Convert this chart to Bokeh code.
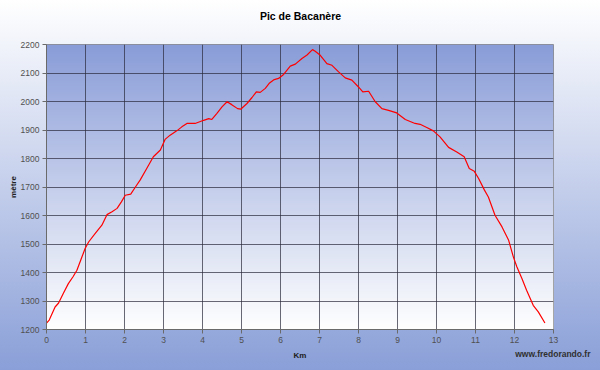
import numpy as np
from bokeh.plotting import figure
from bokeh.models import Range1d, FixedTicker, Label
from bokeh.embed import file_html
from bokeh.resources import INLINE

km = [0, 0.07, 0.22, 0.31, 0.43, 0.56, 0.68, 0.78, 0.91, 0.99, 1.08, 1.25, 1.42, 1.55, 1.68,
      1.81, 1.92, 2.02, 2.16, 2.28, 2.40, 2.57, 2.74, 2.92, 3.04, 3.17, 3.34, 3.47, 3.60, 3.81,
      4.03, 4.16, 4.24, 4.37, 4.50, 4.63, 4.75, 4.90, 4.98, 5.14, 5.27, 5.38, 5.48, 5.61, 5.72,
      5.84, 5.95, 6.08, 6.25, 6.38, 6.55, 6.68, 6.82, 6.89, 7.02, 7.19, 7.32, 7.49, 7.66, 7.83,
      8.00, 8.11, 8.26, 8.43, 8.60, 8.77, 8.98, 9.20, 9.45, 9.58, 9.75, 9.92, 10.09, 10.31, 10.52,
      10.71, 10.84, 10.97, 11.08, 11.23, 11.33, 11.50, 11.68, 11.85, 11.97, 12.06, 12.19, 12.31,
      12.48, 12.61, 12.78]
altitude = [1222, 1233, 1279, 1293, 1326, 1361, 1385, 1408, 1455, 1484, 1507, 1537, 1566, 1603, 1613,
            1625, 1648, 1671, 1675, 1700, 1724, 1765, 1806, 1830, 1867, 1882, 1897, 1911, 1923, 1923,
            1934, 1940, 1937, 1958, 1981, 1999, 1989, 1975, 1973, 1993, 2014, 2034, 2032, 2046, 2065,
            2077, 2081, 2095, 2124, 2131, 2151, 2163, 2182, 2176, 2162, 2133, 2127, 2104, 2083, 2075,
            2051, 2034, 2036, 1999, 1975, 1969, 1960, 1937, 1923, 1920, 1909, 1897, 1876, 1839, 1823,
            1806, 1765, 1755, 1730, 1689, 1665, 1601, 1560, 1513, 1455, 1420, 1379, 1338, 1285, 1262,
            1223]
x_ticks = list(range(0, 14))
y_ticks = list(range(1200, 2201, 100))
title_text = "Pic de Bacanère"
x_label = "Km"
y_label = "mètre"
credit = "www.fredorando.fr"

FONT = "Liberation Sans"

p = figure(width=600, height=370, output_backend="svg", toolbar_location=None,
           x_range=Range1d(0, 13), y_range=Range1d(1200, 2200),
           min_border_left=46, min_border_right=47, min_border_top=44, min_border_bottom=41)
p.title_location = None
p.styles = {"background": "linear-gradient(to bottom, #ffffff 0%, #8a9fd8 100%)"}
p.border_fill_alpha = 0
p.background_fill_alpha = 0
p.outline_line_color = "#8a8a8a"
p.outline_line_width = 1

# plot-area gradient (blue at top to white at bottom)
n = 256
t = np.linspace(0, 1, n)[:, None]  # row 0 = bottom
top = np.array([138, 157, 216])
bot = np.array([255, 255, 255])
rgb = (bot + (top - bot) * t).astype(np.uint32)
img = np.empty((n, 1), dtype=np.uint32)
view = img.view(dtype=np.uint8).reshape((n, 1, 4))
view[:, 0, 0] = rgb[:, 0]
view[:, 0, 1] = rgb[:, 1]
view[:, 0, 2] = rgb[:, 2]
view[:, 0, 3] = 255
p.image_rgba(image=[img], x=0, y=1200, dw=13, dh=1000, level="image")

p.line(km, altitude, line_color="#ff0000", line_width=1.2)

for ax in (p.xaxis[0], p.yaxis[0]):
    ax.axis_line_color = "#6a6a6a"
    ax.major_tick_line_color = "#6a6a6a"
    ax.minor_tick_line_color = None
    ax.major_tick_in = 0
    ax.major_tick_out = 4
    ax.major_label_text_font = FONT
    ax.major_label_text_font_size = "8.5px"
    ax.major_label_text_color = "#505050"
    ax.major_label_standoff = 3
    ax.axis_label_text_font = FONT
    ax.axis_label_text_font_size = "8px"
    ax.axis_label_text_font_style = "bold"
    ax.axis_label_text_color = "#202020"

p.xaxis.ticker = FixedTicker(ticks=x_ticks)
p.yaxis.ticker = FixedTicker(ticks=y_ticks)
p.xaxis.axis_label = x_label
p.yaxis.axis_label = y_label
p.xaxis.axis_label_standoff = 5
p.yaxis.axis_label_standoff = 0

for g in (p.xgrid[0], p.ygrid[0]):
    g.ticker = FixedTicker(ticks=x_ticks if g is p.xgrid[0] else y_ticks)
    g.grid_line_color = "#2a2a3a"
    g.grid_line_alpha = 0.7
    g.grid_line_width = 1

# texts living in the top side panel (not clipped), placed relative to that panel
title_label = Label(x=254, y=29, x_units="screen", y_units="screen", text=title_text,
                    text_font=FONT, text_font_size="10.5px", text_font_style="bold",
                    text_color="#000000", text_align="center", text_baseline="middle")
credit_label = Label(x=544, y=-321, x_units="screen", y_units="screen", text=credit,
                     text_font=FONT, text_font_size="8.5px", text_font_style="bold",
                     text_color="#303030", text_align="right", text_baseline="middle")
p.above.insert(0, title_label)
p.above.insert(1, credit_label)

open("out.html", "w").write(file_html(p, INLINE))
